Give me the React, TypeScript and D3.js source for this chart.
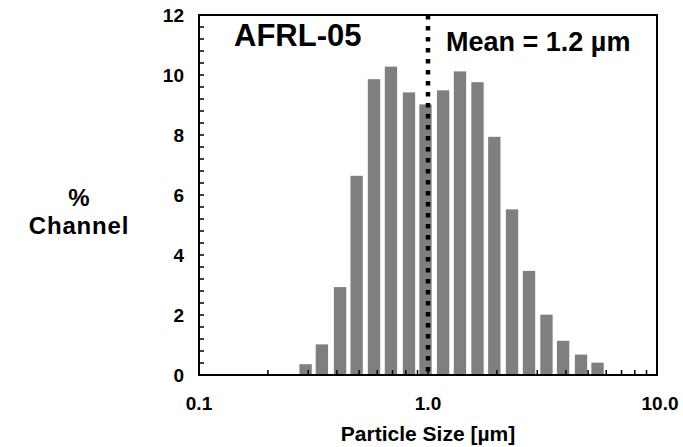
import React from 'react';
import * as d3 from 'd3';

// particle size channels (µm) and % per channel
const sizes = [0.292, 0.344, 0.413, 0.488, 0.581, 0.689, 0.826, 0.975, 1.164, 1.379, 1.645, 1.948, 2.328, 2.761, 3.291, 3.89, 4.658, 5.5];
const percents = [0.36, 1.02, 2.93, 6.64, 9.86, 10.28, 9.42, 9.02, 9.49, 10.12, 9.76, 7.94, 5.52, 3.47, 2.01, 1.14, 0.68, 0.41];
const yTicks = [0, 2, 4, 6, 8, 10, 12];
const xTicks = [0.1, 1, 10];
const xMinor = [0.2, 0.3, 0.4, 0.5, 0.6, 0.7, 0.8, 0.9, 1, 2, 3, 4, 5, 6, 7, 8, 9];
const meanLineAt = 1.0;
const sampleName = 'AFRL-05';
const meanLabel = 'Mean = 1.2 µm';

const width = 683;
const height = 447;
const margin = { top: 15, right: 26, bottom: 72, left: 199 };
const font = '"Liberation Sans", Arial, sans-serif';

export default function App() {
  const x = d3.scaleLog().domain([0.1, 10]).range([margin.left, width - margin.right]);
  const y = d3.scaleLinear().domain([0, 12]).range([height - margin.bottom, margin.top]);
  const half = 1.064; // half bar width as a size ratio
  const yMinor = d3.range(0, 12.001, 0.4);

  return (
    <svg width={width} height={height} style={{ position: 'absolute', left: 0, top: 0, background: '#fff' }} fontFamily={font}>
      {sizes.map((s, i) => (
        <rect key={i} x={x(s / half)} width={x(s * half) - x(s / half)} y={y(percents[i])}
          height={y(0) - y(percents[i])} fill="#7f7f7f" />
      ))}
      {/* frame */}
      <rect x={x(0.1)} y={y(12)} width={x(10) - x(0.1)} height={y(0) - y(12)} fill="none" stroke="#000" strokeWidth={2} />
      {yMinor.map((v, i) => (
        <line key={'ym' + i} x1={x(0.1)} x2={x(0.1) + 5} y1={y(v)} y2={y(v)} stroke="#000" strokeWidth={1.5} />
      ))}
      {xMinor.map((v, i) => (
        <line key={'xm' + i} x1={x(v)} x2={x(v)} y1={y(0)} y2={y(0) - 5} stroke="#000" strokeWidth={1.5} />
      ))}
      <line x1={x(meanLineAt)} x2={x(meanLineAt)} y1={y(12)} y2={y(0) + 3} stroke="#000" strokeWidth={4.5} strokeDasharray="4.5 6.5" />
      {yTicks.map((v) => (
        <text key={'yt' + v} x={x(0.1) - 15} y={y(v)} dy="0.35em" textAnchor="end" fontSize={19} fontWeight="bold">{v}</text>
      ))}
      {xTicks.map((v) => (
        <text key={'xt' + v} x={x(v) + (v === 10 ? 3 : 0)} y={y(0) + 35} textAnchor="middle" fontSize={19} fontWeight="bold">{v.toFixed(1)}</text>
      ))}
      <text x={x(1)} y={height - 6} textAnchor="middle" fontSize={21} fontWeight="bold">Particle Size [µm]</text>
      <text x={79} y={206} textAnchor="middle" fontSize={24} fontWeight="bold">%</text>
      <text x={79} y={234} textAnchor="middle" fontSize={24} fontWeight="bold" letterSpacing={0.8}>Channel</text>
      <text x={234} y={46} fontSize={31} fontWeight="bold">{sampleName}</text>
      <text x={446} y={51} fontSize={27} fontWeight="bold">{meanLabel}</text>
    </svg>
  );
}
